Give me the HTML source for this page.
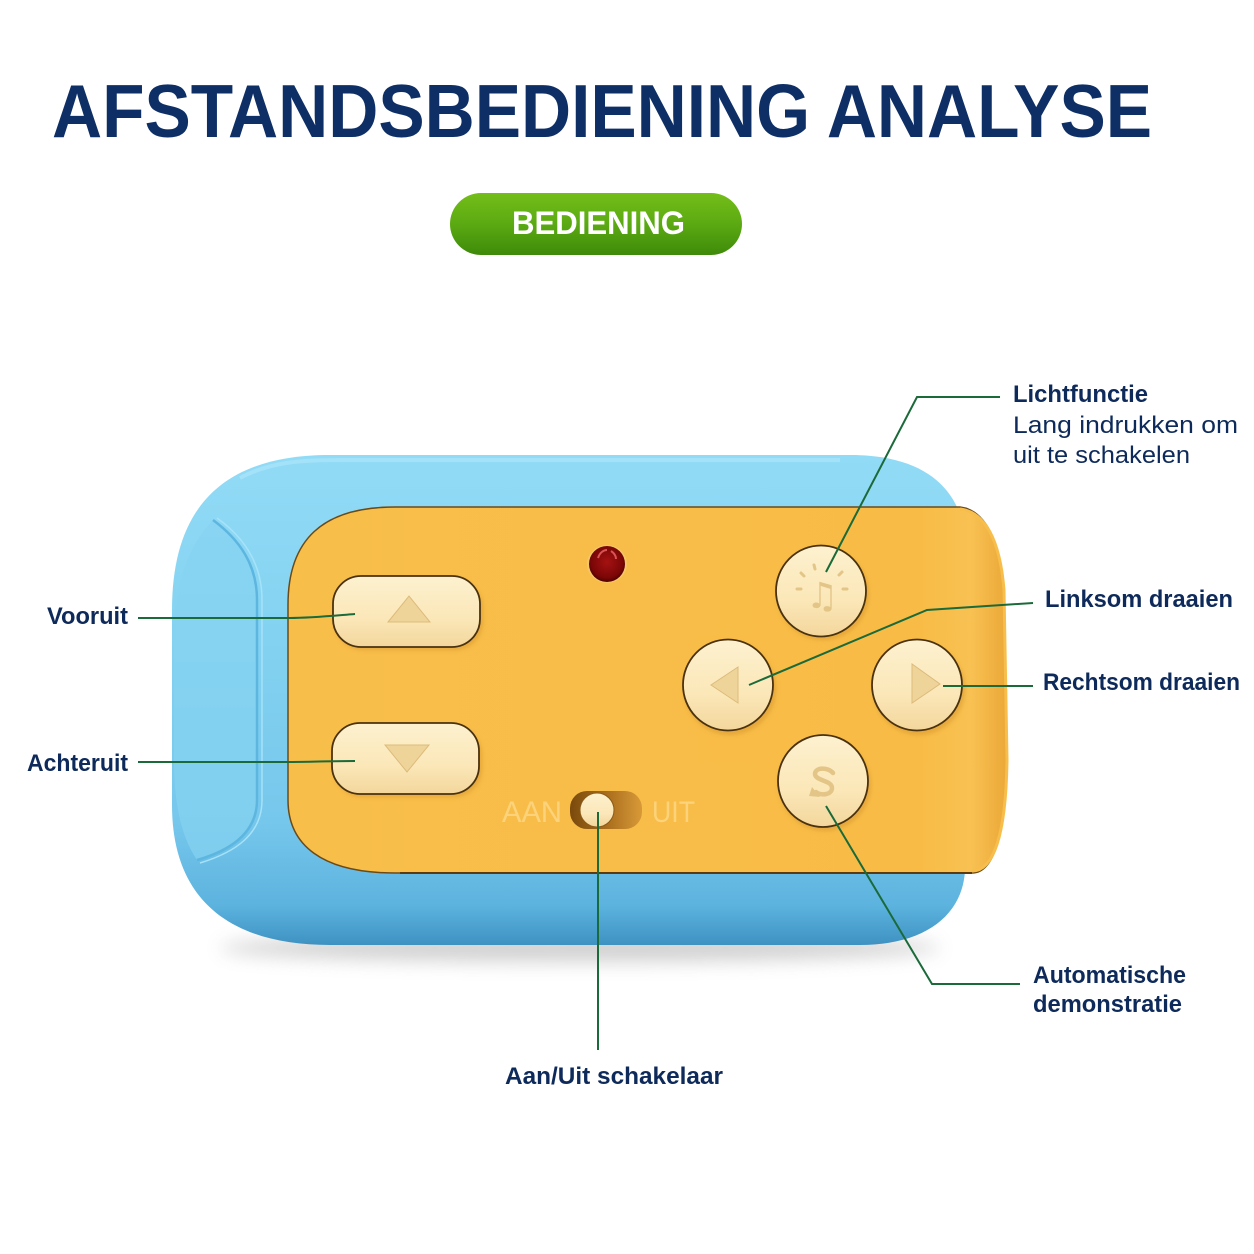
<!DOCTYPE html>
<html>
<head>
<meta charset="utf-8">
<style>
  html,body{margin:0;padding:0;background:#fff;}
  svg{display:block;}
  .lbl{font-family:"Liberation Sans",sans-serif;font-weight:bold;fill:#0D2A5A;font-size:24px;}
  .reg{font-family:"Liberation Sans",sans-serif;font-weight:normal;fill:#0D2A5A;font-size:24px;}
</style>
</head>
<body>
<svg width="1254" height="1254" viewBox="0 0 1254 1254" xmlns="http://www.w3.org/2000/svg">
  <defs>
    <linearGradient id="pill" x1="0" y1="0" x2="0" y2="1">
      <stop offset="0" stop-color="#74BE19"/>
      <stop offset="0.5" stop-color="#5BAA12"/>
      <stop offset="1" stop-color="#3E8A0A"/>
    </linearGradient>
    <linearGradient id="blue" x1="0" y1="0" x2="0" y2="1">
      <stop offset="0" stop-color="#92DBF6"/>
      <stop offset="0.3" stop-color="#86D4F2"/>
      <stop offset="0.75" stop-color="#76C7EC"/>
      <stop offset="0.92" stop-color="#5CB3DE"/>
      <stop offset="1" stop-color="#3E92C2"/>
    </linearGradient>
    <linearGradient id="orange" x1="0" y1="0" x2="1" y2="0">
      <stop offset="0" stop-color="#F8BE4A"/>
      <stop offset="0.88" stop-color="#F8BC46"/>
      <stop offset="0.95" stop-color="#F8C152"/>
      <stop offset="1" stop-color="#EBA838"/>
    </linearGradient>
    <linearGradient id="cream" x1="0" y1="0" x2="0" y2="1">
      <stop offset="0" stop-color="#FDF1CF"/>
      <stop offset="0.6" stop-color="#FBE7B8"/>
      <stop offset="1" stop-color="#F3D69C"/>
    </linearGradient>
    <radialGradient id="led" cx="0.5" cy="0.45" r="0.55">
      <stop offset="0" stop-color="#A51212"/>
      <stop offset="0.8" stop-color="#7A0606"/>
      <stop offset="1" stop-color="#4E0202"/>
    </radialGradient>
    <linearGradient id="slot" x1="0" y1="0" x2="1" y2="0">
      <stop offset="0" stop-color="#7A4A0C"/>
      <stop offset="0.5" stop-color="#A86C1C"/>
      <stop offset="1" stop-color="#D89A38"/>
    </linearGradient>
    <filter id="blur" x="-20%" y="-200%" width="140%" height="500%">
      <feGaussianBlur stdDeviation="9"/>
    </filter>
    <filter id="sblur" x="-20%" y="-20%" width="140%" height="140%">
      <feGaussianBlur stdDeviation="2"/>
    </filter>
  </defs>

  <!-- Title -->
  <text x="52" y="137" font-family="Liberation Sans, sans-serif" font-weight="bold" font-size="75" fill="#0E2F66" textLength="1100" lengthAdjust="spacingAndGlyphs">AFSTANDSBEDIENING ANALYSE</text>

  <!-- Pill -->
  <rect x="450" y="193" width="292" height="62" rx="31" fill="url(#pill)"/>
  <text x="512" y="234" font-family="Liberation Sans, sans-serif" font-weight="bold" font-size="32" fill="#FFFFFF" textLength="173" lengthAdjust="spacingAndGlyphs">BEDIENING</text>

  <!-- shadow under device -->
  <ellipse cx="580" cy="948" rx="360" ry="14" fill="#9a9a9a" opacity="0.45" filter="url(#blur)"/>

  <!-- Blue body -->
  <path d="M172 610 C172 505 225 455 330 455 L850 455 C915 455 950 480 962 520 L965 870 C963 915 925 945 860 945 L330 945 C230 945 172 900 172 805 Z" fill="url(#blue)"/>
  <path d="M213 520 C240 540 257 565 257 600 L257 800 C257 832 232 850 197 860 C180 835 174 800 174 760 L174 640 C174 580 190 545 213 520 Z" fill="#86D3F1" opacity="0.7"/>
  <path d="M213 520 C240 540 257 565 257 600 L257 800 C257 832 232 850 197 860" fill="none" stroke="#5DB6E0" stroke-width="2.5"/>
  <path d="M217 518 C245 538 262 565 262 600 L262 800 C262 834 236 852 200 863" fill="none" stroke="#A6E2F8" stroke-width="1.5"/>
  <path d="M240 478 C270 462 300 460 340 460 L840 460" fill="none" stroke="#A8E4F9" stroke-width="4" opacity="0.8"/>

  <!-- Orange panel -->
  <path d="M288 605 C288 540 322 507 395 507 L960 507 C985 510 1000 540 1004 590 L1007 760 C1006 830 995 873 972 873 L395 873 C322 873 288 845 288 800 Z" fill="url(#orange)" stroke="#6B4A18" stroke-width="1.5"/>
  <path d="M960 509 C985 512 1000 540 1004 590 L1007 760 C1006 830 995 871 972 871" fill="none" stroke="#F7BE4C" stroke-width="3"/>
  <line x1="400" y1="873" x2="972" y2="873" stroke="#5A3A10" stroke-width="2"/>

  <!-- LED -->
  <ellipse cx="607" cy="564" rx="20" ry="19" fill="#F6C766"/>
  <ellipse cx="607" cy="564" rx="18" ry="18" fill="url(#led)"/>
  <path d="M598 558 C600 552 604 550 607 550" stroke="#E66" stroke-width="2" fill="none" opacity="0.8"/>
  <path d="M611 551 C614 553 616 556 616 559" stroke="#E66" stroke-width="2" fill="none" opacity="0.8"/>

  <!-- Up / down rectangular buttons -->
  <g>
    <rect x="335" y="580" width="148" height="70" rx="28" fill="#D99A32" opacity="0.6" filter="url(#sblur)"/>
    <rect x="333" y="576" width="147" height="71" rx="28" fill="url(#cream)" stroke="#4A3210" stroke-width="1.8"/>
    <polygon points="388,622 430,622 409,596" fill="#EFD49A" stroke="#DCBB7C" stroke-width="1"/>

    <rect x="334" y="727" width="148" height="70" rx="28" fill="#D99A32" opacity="0.6" filter="url(#sblur)"/>
    <rect x="332" y="723" width="147" height="71" rx="28" fill="url(#cream)" stroke="#4A3210" stroke-width="1.8"/>
    <polygon points="385,745 429,745 407,772" fill="#EFD49A" stroke="#DCBB7C" stroke-width="1"/>
  </g>

  <!-- Round buttons -->
  <g>
    <ellipse cx="823" cy="594" rx="46" ry="46" fill="#D99A32" opacity="0.6" filter="url(#sblur)"/>
    <ellipse cx="821" cy="591" rx="45" ry="45.5" fill="url(#cream)" stroke="#4A3210" stroke-width="1.8"/>
    <ellipse cx="730" cy="689" rx="46" ry="46" fill="#D99A32" opacity="0.6" filter="url(#sblur)"/>
    <ellipse cx="728" cy="685" rx="45" ry="45.5" fill="url(#cream)" stroke="#4A3210" stroke-width="1.8"/>
    <ellipse cx="919" cy="689" rx="46" ry="46" fill="#D99A32" opacity="0.6" filter="url(#sblur)"/>
    <ellipse cx="917" cy="685" rx="45" ry="45.5" fill="url(#cream)" stroke="#4A3210" stroke-width="1.8"/>
    <ellipse cx="825" cy="785" rx="46" ry="46" fill="#D99A32" opacity="0.6" filter="url(#sblur)"/>
    <ellipse cx="823" cy="781" rx="45" ry="46" fill="url(#cream)" stroke="#4A3210" stroke-width="1.8"/>
    <polygon points="738,667 738,703 711,685" fill="#EFD49A" stroke="#DCBB7C" stroke-width="1"/>
    <polygon points="912,664 912,703 940,684" fill="#EFD49A" stroke="#DCBB7C" stroke-width="1"/>
    <!-- music/light icon -->
    <text x="822" y="608" text-anchor="middle" font-family="DejaVu Sans, sans-serif" font-size="36" fill="#E3C587">♫</text>
    <g stroke="#E3C587" stroke-width="3" stroke-linecap="round">
      <line x1="797" y1="589" x2="801" y2="589"/>
      <line x1="843" y1="589" x2="847" y2="589"/>
      <line x1="801" y1="573" x2="804" y2="576"/>
      <line x1="842" y1="572" x2="839" y2="575"/>
      <line x1="814" y1="565" x2="815" y2="569"/>
    </g>
    <!-- demo S icon -->
    <path d="M833 773 C828 767 815 767 815 774 C815 781 832 780 832 788 C832 795 821 796 816 792" fill="none" stroke="#E3C587" stroke-width="4.5" stroke-linecap="round"/>
    <polygon points="812,787 820,797 809,796" fill="#E3C587"/>
  </g>

  <!-- Switch -->
  <text x="502" y="822" font-family="Liberation Sans Narrow, Liberation Sans, sans-serif" font-size="30" fill="#FCD37A" textLength="60" lengthAdjust="spacingAndGlyphs">AAN</text>
  <text x="652" y="822" font-family="Liberation Sans Narrow, Liberation Sans, sans-serif" font-size="30" fill="#FCD37A" textLength="43" lengthAdjust="spacingAndGlyphs">UIT</text>
  <rect x="570" y="791" width="72" height="38" rx="17" fill="url(#slot)"/>
  <ellipse cx="597" cy="810" rx="17" ry="17" fill="url(#cream)" stroke="#8A5A18" stroke-width="1"/>

  <!-- Connector lines -->
  <g fill="none" stroke="#1B6A3A" stroke-width="2">
    <path d="M138 618 L290 618 C310 618 330 616 355 614"/>
    <path d="M138 762 L290 762 C310 762 330 761 355 761"/>
    <path d="M826 572 L917 397 L1000 397"/>
    <path d="M749 685 L927 610 L1033 603"/>
    <path d="M943 686 L1033 686"/>
    <path d="M826 806 L932 984 L1020 984"/>
    <path d="M598 812 L598 1050"/>
  </g>

  <!-- Labels -->
  <text class="lbl" x="47" y="624" textLength="81" lengthAdjust="spacingAndGlyphs">Vooruit</text>
  <text class="lbl" x="27" y="771" textLength="101" lengthAdjust="spacingAndGlyphs">Achteruit</text>
  <text class="lbl" x="1013" y="402" textLength="135" lengthAdjust="spacingAndGlyphs">Lichtfunctie</text>
  <text class="reg" x="1013" y="433" textLength="225" lengthAdjust="spacingAndGlyphs">Lang indrukken om</text>
  <text class="reg" x="1013" y="463" textLength="177" lengthAdjust="spacingAndGlyphs">uit te schakelen</text>
  <text class="lbl" x="1045" y="607" textLength="188" lengthAdjust="spacingAndGlyphs">Linksom draaien</text>
  <text class="lbl" x="1043" y="690" textLength="197" lengthAdjust="spacingAndGlyphs">Rechtsom draaien</text>
  <text class="lbl" x="1033" y="983" textLength="153" lengthAdjust="spacingAndGlyphs">Automatische</text>
  <text class="lbl" x="1033" y="1012" textLength="149" lengthAdjust="spacingAndGlyphs">demonstratie</text>
  <text class="lbl" x="505" y="1084" textLength="218" lengthAdjust="spacingAndGlyphs">Aan/Uit schakelaar</text>
</svg>
</body>
</html>
